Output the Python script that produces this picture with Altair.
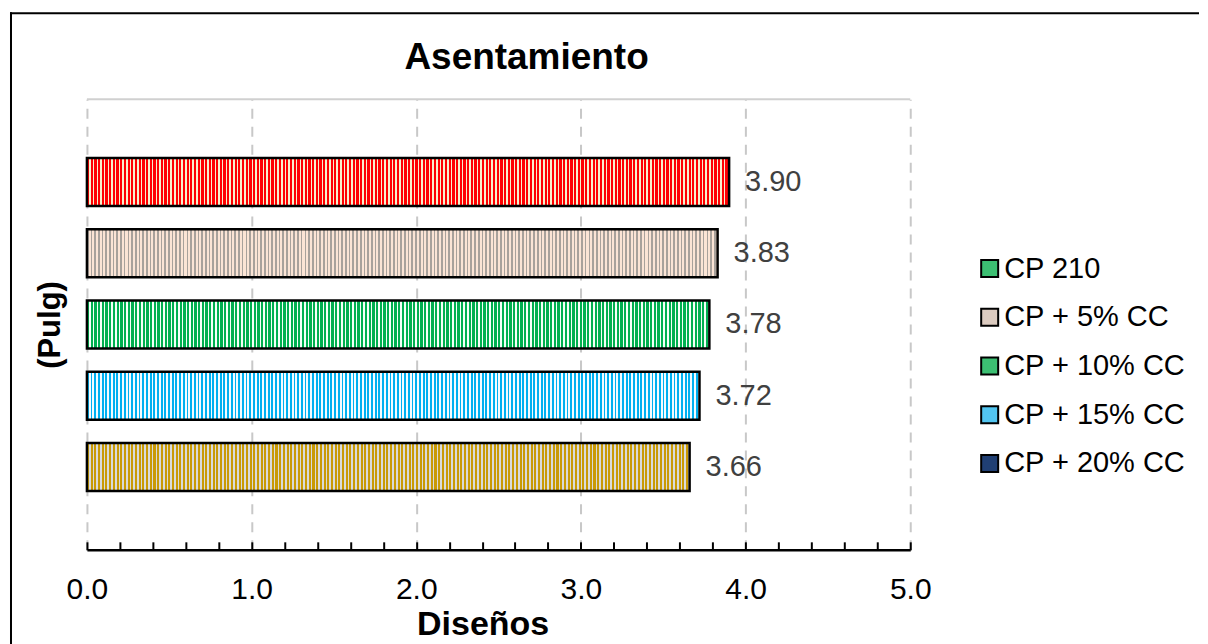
import altair as alt
import pandas as pd

# ---- data ----
designs = ["CP 210", "CP + 5% CC", "CP + 10% CC", "CP + 15% CC", "CP + 20% CC"]
bar_designs = ["CP 210", "CP + 5% CC", "CP + 10% CC", "CP + 15% CC", "CP + 20% CC"]
bar_values = [3.90, 3.83, 3.78, 3.72, 3.66]
stripe_main = ["#ff0000", "#a8a19b", "#00b050", "#00b0f0", "#c99a06"]
stripe_back = ["#f7efcc", "#fbe4d5", "#f4fff8", "#f4fbff", "#d9dadc"]
stripe_share = [0.6, 0.45, 0.62, 0.5, 0.55]
legend_colors = ["#3cbf72", "#dccbc0", "#3cbf72", "#52c5f0", "#203f73"]
x_ticks = [0, 1, 2, 3, 4, 5]
minor_ticks = [round(i * 0.2, 1) for i in range(26)]

FONT = "Liberation Sans"
W, H = 824, 451

df = pd.DataFrame({"design": bar_designs, "value": bar_values})
legend_df = pd.DataFrame({"label": designs})
one = pd.DataFrame({"k": [0]})


def stripes(main, back, share, value):
    width_px = value * W / 5
    n = int(round(width_px / 3.7))
    stops = []
    for i in range(n):
        s = i / n
        m = (i + share) / n
        e = (i + 1) / n
        stops += [
            {"offset": round(s, 5), "color": main},
            {"offset": round(m, 5), "color": main},
            {"offset": round(m, 5), "color": back},
            {"offset": round(e, 5), "color": back},
        ]
    return {"gradient": "linear", "x1": 0, "x2": 1, "y1": 0, "y2": 0, "stops": stops}


x_scale = alt.Scale(domain=[0, 5], nice=False, zero=True)
y_enc = alt.Y(
    "design:N",
    sort=bar_designs,
    scale=alt.Scale(paddingInner=0.327, paddingOuter=0.826),
    axis=alt.Axis(
        labels=False, ticks=False, domain=False, grid=False,
        title="(Pulg)", titleFont=FONT, titleFontSize=31, titleFontWeight="bold",
        titleColor="black", titlePadding=20,
    ),
)

main_axis = alt.Axis(
    orient="bottom", values=x_ticks, format=".1f", grid=True,
    gridColor="#c8c8c8", gridDash=[10, 8], gridWidth=2,
    domainColor="black", domainWidth=2.5, ticks=False, tickSize=0,
    labelFont=FONT, labelFontSize=30, labelColor="black", labelPadding=25,
    labelFlush=False, labelOverlap=False,
    title="Diseños", titleFont=FONT, titleFontSize=34, titleFontWeight="bold",
    titleColor="black", titlePadding=3, titleX=396, titleAlign="center",
)
tick_axis = alt.Axis(
    orient="bottom", offset=-8, values=minor_ticks, domain=False, labels=False,
    grid=False, ticks=True, tickSize=8, tickWidth=2, tickColor="black", title=None,
)

layers = []
for i, d in enumerate(bar_designs):
    layers.append(
        alt.Chart(df)
        .transform_filter(alt.datum.design == d)
        .mark_bar(
            fill=stripes(stripe_main[i], stripe_back[i], stripe_share[i], bar_values[i]),
            stroke="black", strokeWidth=2.5,
        )
        .encode(
            x=alt.X("value:Q", scale=x_scale, axis=main_axis if i == 0 else None),
            y=y_enc,
        )
    )

labels = (
    alt.Chart(df)
    .mark_text(align="left", baseline="middle", dx=16, font=FONT, fontSize=29, color="#404040")
    .encode(
        x=alt.X("value:Q", scale=x_scale, axis=tick_axis),
        y=y_enc,
        text=alt.Text("value:Q", format=".2f"),
    )
)

top_line = alt.Chart(one).mark_rule(color="#d0d0d0", strokeWidth=2).encode(
    x=alt.value(0), x2=alt.value(W), y=alt.value(0)
)
frame_left = alt.Chart(one).mark_rule(color="black", strokeWidth=2).encode(
    x=alt.value(-76), y=alt.value(-87), y2=alt.value(546)
)
frame_top = alt.Chart(one).mark_rule(color="black", strokeWidth=2).encode(
    x=alt.value(-77), x2=alt.value(1113), y=alt.value(-86)
)
title = alt.Chart(one).mark_text(
    align="center", baseline="alphabetic", font=FONT, fontSize=37,
    fontWeight="bold", color="black",
).encode(x=alt.value(440), y=alt.value(-30), text=alt.value("Asentamiento"))

legend_layer = alt.Chart(legend_df).mark_square(opacity=0).encode(
    color=alt.Color(
        "label:N",
        sort=designs,
        scale=alt.Scale(domain=designs, range=legend_colors),
        legend=alt.Legend(
            title=None, orient="none", legendX=889, legendY=155, padding=0,
            symbolType="square", symbolSize=289, symbolStrokeColor="black",
            symbolStrokeWidth=2, symbolOpacity=1,
            labelFont=FONT, labelFontSize=29, labelColor="black",
            labelOffset=0, rowPadding=18.75, labelLimit=400,
        ),
    )
)

chart = (
    alt.layer(*layers, labels, top_line, frame_left, frame_top, title, legend_layer)
    .resolve_axis(x="independent")
    .properties(width=W, height=H, padding={"left": 1, "top": 3, "right": 0, "bottom": 0}, background="white")
    .configure_view(fill="#f2f2f2", stroke=None)
)

chart.save("out.html", embed_options={"renderer": "svg", "actions": False})
